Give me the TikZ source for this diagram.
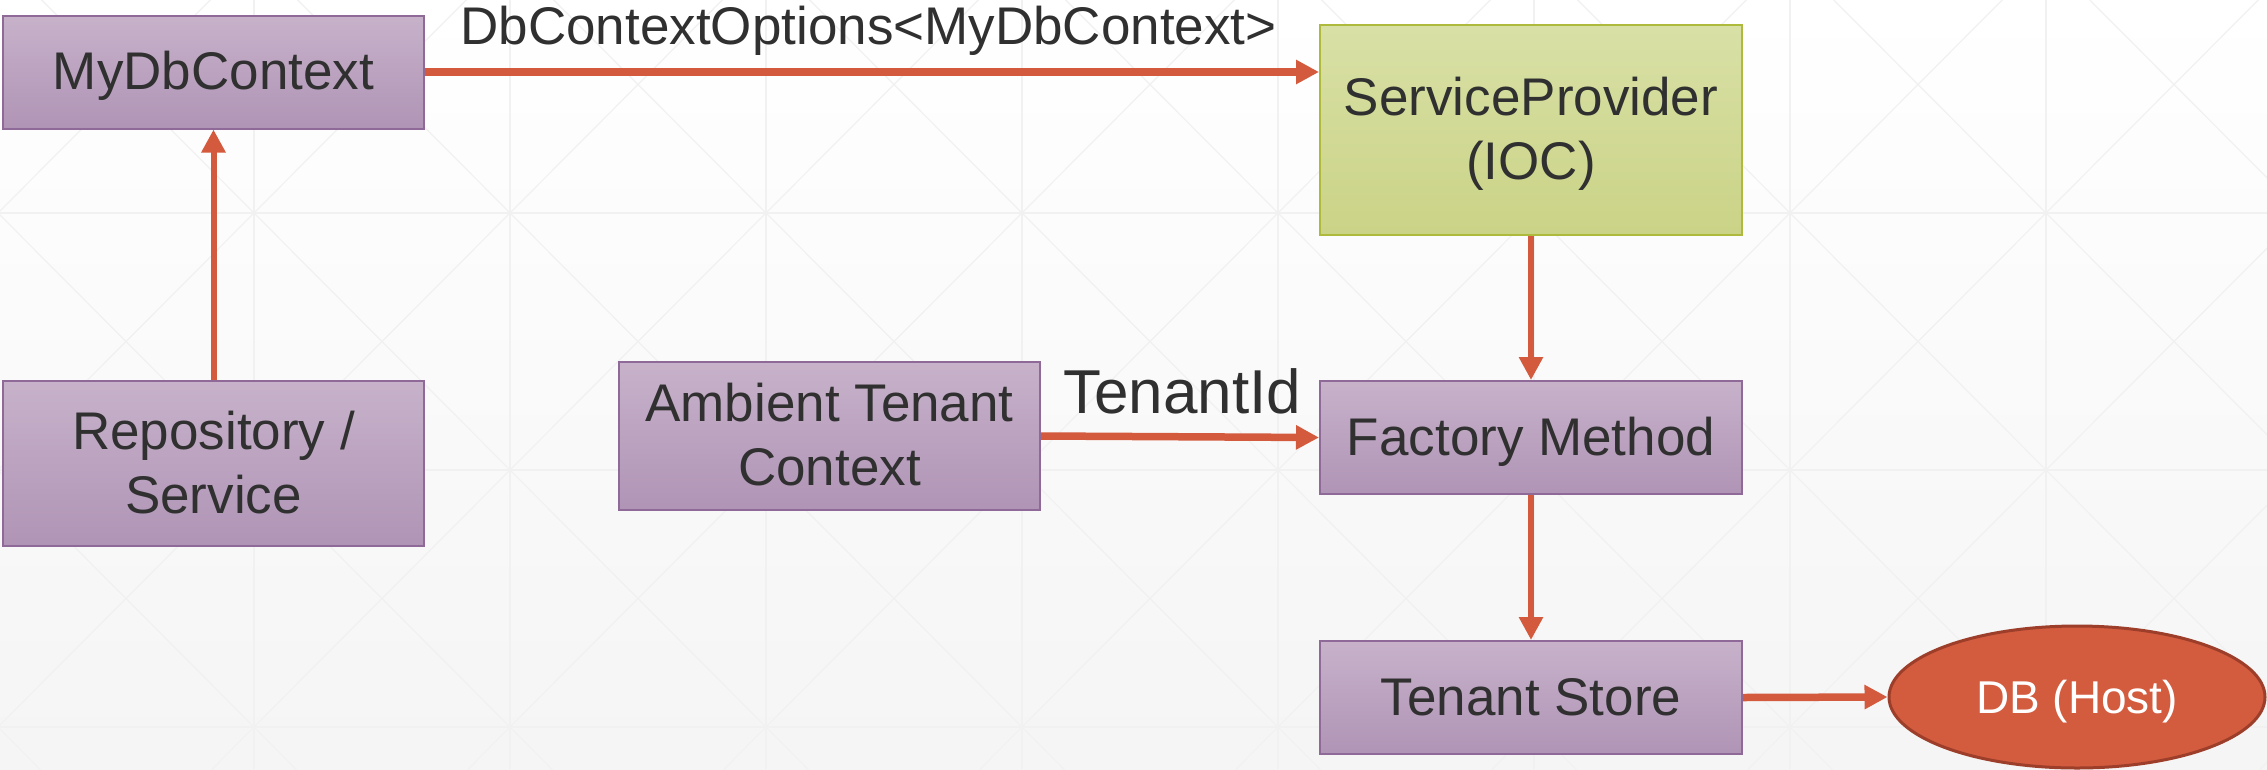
\documentclass[tikz,border=0pt]{standalone}
\usepackage{fontspec}
\setmainfont{Liberation Sans}
\usetikzlibrary{arrows.meta,shapes.geometric}
\definecolor{arrowred}{HTML}{D35A3C}
\definecolor{boxtop}{HTML}{C7B2CA}
\definecolor{boxbot}{HTML}{B094B6}
\definecolor{boxline}{HTML}{8F6A99}
\definecolor{greentop}{HTML}{D9E0A6}
\definecolor{greenbot}{HTML}{CAD386}
\definecolor{greenline}{HTML}{AEBA3C}
\definecolor{dbfill}{HTML}{D35B3E}
\definecolor{dbline}{HTML}{9C3E29}
\definecolor{ink}{HTML}{303030}
\definecolor{gridline}{HTML}{F1F1F1}
% box text, set a little below the geometric centre of its box
\newcommand\boxlines[1]{\raisebox{-5pt}[\height][\depth]{\begin{tabular}{@{}c@{}}#1\end{tabular}}}
\begin{document}
\begin{tikzpicture}[x=1pt,y=-1pt,
  purplebox/.style={rectangle, draw=boxline, line width=2pt, top color=boxtop,
    bottom color=boxbot, inner sep=0pt, text=ink,
    font=\fontsize{53}{64}\selectfont},
  greenbox/.style={purplebox, draw=greenline, top color=greentop, bottom color=greenbot},
  dbnode/.style={ellipse, draw=dbline, line width=3pt, fill=dbfill, text=white,
    inner sep=0pt, font=\fontsize{46}{55}\selectfont},
  flow/.style={draw=arrowred, line width=6pt, -{Triangle[length=23pt,width=23pt]}},
  flowthick/.style={flow, line width=7.5pt},
  edgetext/.style={text=ink, inner sep=0pt, anchor=base}
]
\useasboundingbox (0,0) rectangle (2267,769);

% background: soft vertical fade with a faint diagonal lattice
\begin{scope}
  \clip (0,0) rectangle (2267,769);
  \shade[top color=white, middle color=white, bottom color=black!4] (0,0) rectangle (2267,769);
  \foreach \i in {-1,...,9} {
    \draw[gridline, line width=1.2pt] ({-2+256*\i},0) -- ({-2+256*\i},769);
  }
  \foreach \j in {0,...,3} {
    \draw[gridline, line width=1.2pt] (0,{-44+257*\j}) -- (2267,{-44+257*\j});
  }
  \foreach \i in {-1,...,9} {
    \foreach \j in {0,...,3} {
      \draw[gridline, line width=1.2pt]
        ({-2+256*\i},{-44+257*\j}) -- ({254+256*\i},{213+257*\j})
        ({254+256*\i},{-44+257*\j}) -- ({-2+256*\i},{213+257*\j});
    }
  }
\end{scope}

% boxes
\node[purplebox, minimum width=421pt, minimum height=113pt] (mydb) at (213.5,72) {\boxlines{MyDbContext}};
\node[purplebox, minimum width=421pt, minimum height=165pt] (repo) at (213.5,463.5) {\boxlines{Repository /\\Service}};
\node[purplebox, minimum width=421pt, minimum height=148pt] (ambient) at (829.5,436) {\boxlines{Ambient Tenant\\Context}};
\node[greenbox, minimum width=422pt, minimum height=210pt] (sp) at (1531,130) {\boxlines{ServiceProvider\\(IOC)}};
\node[purplebox, minimum width=422pt, minimum height=113pt] (factory) at (1531,437.5) {\boxlines{Factory Method}};
\node[purplebox, minimum width=422pt, minimum height=113pt] (store) at (1531,697.5) {\boxlines{Tenant Store}};
\node[dbnode, minimum width=376pt, minimum height=142pt] (db) at (2077,697) {\boxlines{DB (Host)}};

% connectors
\draw[flowthick] (mydb.east) -- (mydb.east -| sp.west);
\draw[flow] (repo.north) -- (mydb.south);
\draw[flow] (sp.south) -- (factory.north);
\draw[flowthick] (ambient.east) -- (factory.west);
\draw[flow] (factory.south) -- (store.north);
\draw[flowthick] (store.east) -- (db.west);

% connector labels
\node[edgetext, font=\fontsize{53}{64}\selectfont] (optlabel) at (868.5,44.6) {DbContextOptions<MyDbContext>};
\node[edgetext, font=\fontsize{62}{72}\selectfont] (tidlabel) at (1182,413) {TenantId};
\end{tikzpicture}
\end{document}
